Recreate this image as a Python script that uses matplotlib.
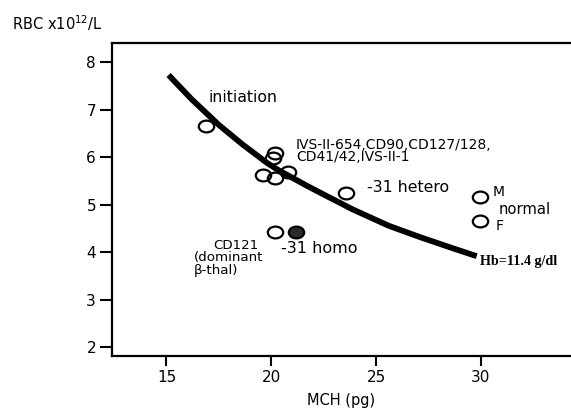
import matplotlib
matplotlib.use("Agg")
import matplotlib.pyplot as plt
from matplotlib.markers import MarkerStyle
from matplotlib.transforms import Affine2D

# Hb = 11.4 g/dl iso-line
curve_mch = [15.1, 16.2, 17.5, 18.6, 19.8, 20.3, 21.7, 22.4, 23.9, 25.6, 27.1, 28.7, 29.8]
curve_rbc = [7.73, 7.22, 6.68, 6.28, 5.88, 5.74, 5.40, 5.24, 4.90, 4.56, 4.32, 4.08, 3.92]

# open circles
open_mch = [16.9, 20.2, 20.1, 19.6, 20.2, 20.8, 23.55, 29.95, 29.95, 20.2]
open_rbc = [6.66, 6.09, 5.98, 5.63, 5.56, 5.69, 5.24, 5.17, 4.67, 4.42]

# filled circle (-31 homo)
filled_mch = [21.2]
filled_rbc = [4.42]

x_ticks = [15, 20, 25, 30]
y_ticks = [2, 3, 4, 5, 6, 7, 8]

fig = plt.figure(figsize=(5.71, 4.09), dpi=100)
ax = fig.add_axes([112 / 571, 1 - 356 / 409, 1 - 112 / 571, (356 - 42.7) / 409])

ax.plot(curve_mch, curve_rbc, color="black", linewidth=4.2, solid_capstyle="butt",
        solid_joinstyle="round")

ell = MarkerStyle("o", transform=Affine2D().scale(1.3, 1.0))
ax.plot(open_mch, open_rbc, linestyle="none", marker=ell, markersize=8.5,
        markerfacecolor="none", markeredgecolor="black", markeredgewidth=1.6)
ax.plot(filled_mch, filled_rbc, linestyle="none", marker=ell, markersize=8.5,
        markerfacecolor="#2a2a2a", markeredgecolor="black", markeredgewidth=1.6)

ax.set_xlim(12.4, 34.3)
ax.set_ylim(1.82, 8.41)
ax.set_xticks(x_ticks)
ax.set_yticks(y_ticks)
ax.tick_params(axis="x", direction="out", length=7, width=1.5, labelsize=11, pad=3)
ax.tick_params(axis="y", direction="out", length=8.5, width=1.5, labelsize=11, pad=3)
ax.spines["right"].set_visible(False)
for s in ["left", "top", "bottom"]:
    ax.spines[s].set_linewidth(1.6)

ax.set_xlabel("MCH (pg)", fontsize=10.5, labelpad=6)
fig.text(12 / 571, 1 - 23 / 409, "RBC x10$^{12}$/L", fontsize=10.5, va="center", ha="left")

# annotations
ax.text(17.02, 7.25, "initiation", fontsize=11.3, va="center")
ax.text(21.17, 6.135, "IVS-II-654,CD90,CD127/128,\nCD41/42,IVS-II-1", fontsize=10,
        va="center", linespacing=0.85)
ax.text(24.55, 5.37, "-31 hetero", fontsize=11.3, va="center")
ax.text(30.55, 5.28, "M", fontsize=10, va="center")
ax.text(30.83, 4.91, "normal", fontsize=10.6, va="center")
ax.text(30.69, 4.55, "F", fontsize=10, va="center")
ax.text(29.98, 3.80, "Hb=11.4 g/dl", fontsize=10.2, family="Liberation Serif", weight="bold",
        va="center")
ax.text(20.45, 4.09, "-31 homo", fontsize=11.5, va="center")
ax.text(17.21, 4.15, "CD121", fontsize=9.6, va="center")
ax.text(16.31, 3.89, "(dominant", fontsize=9.6, va="center")
ax.text(16.31, 3.61, "β-thal)", fontsize=9.6, va="center")

fig.savefig("out.png", dpi=100)
